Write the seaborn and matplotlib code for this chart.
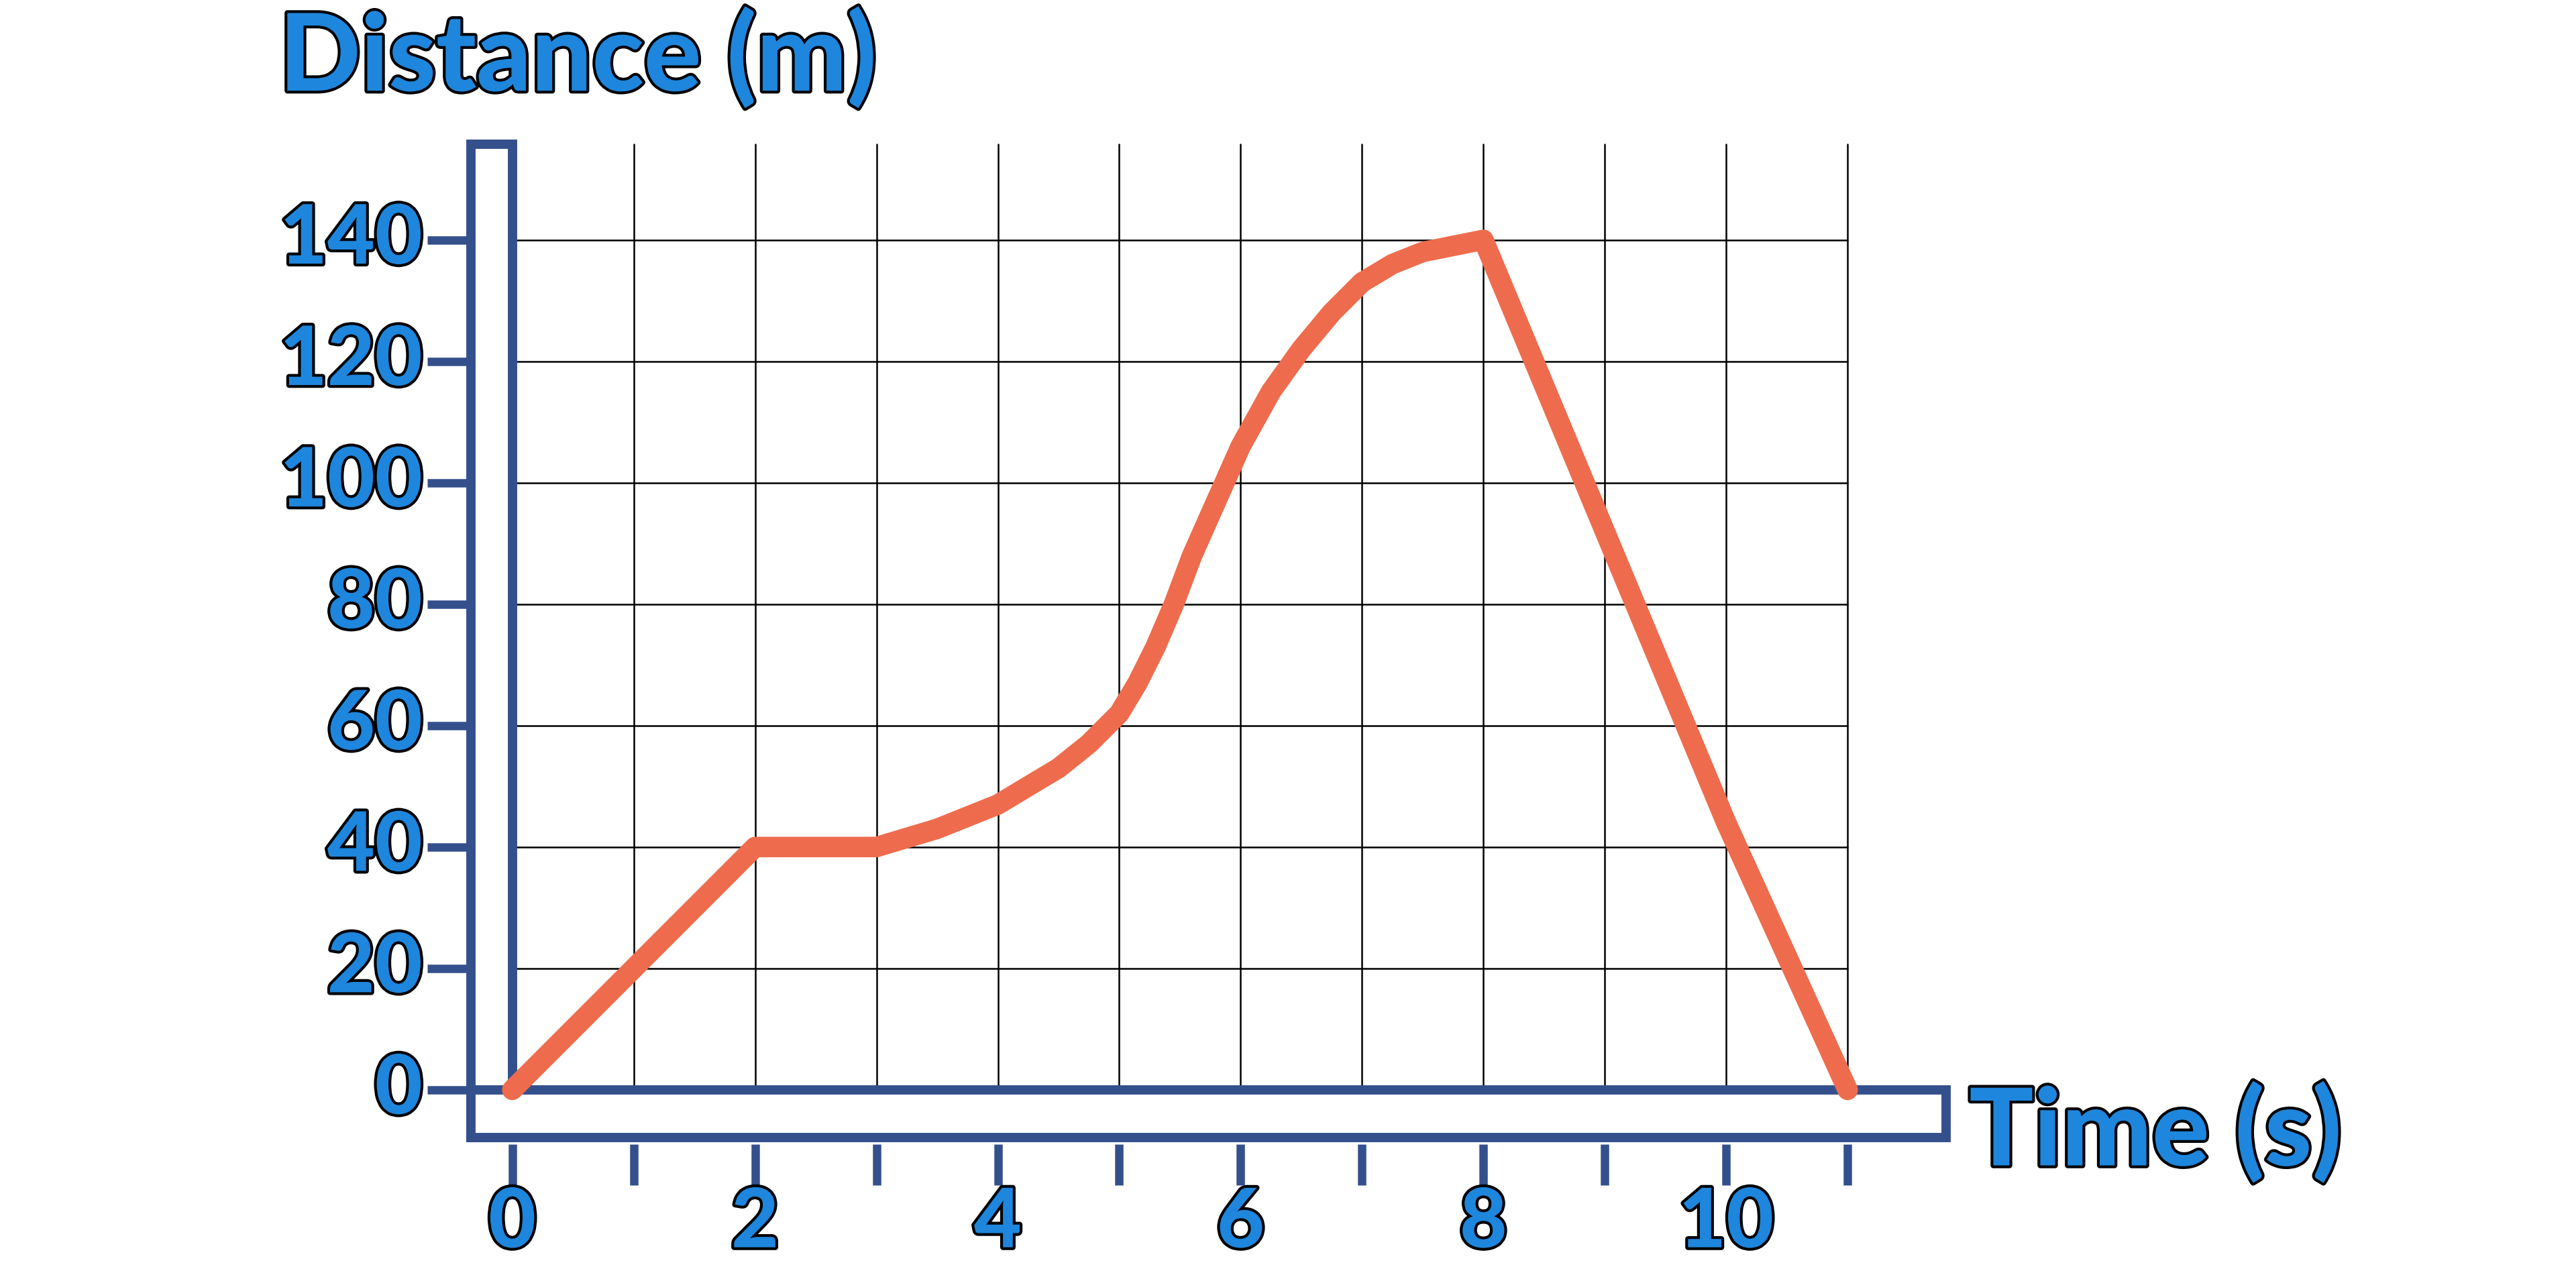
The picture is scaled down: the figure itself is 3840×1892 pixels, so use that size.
import matplotlib
matplotlib.use("Agg")
import matplotlib.pyplot as plt
import matplotlib.patheffects as pe
from matplotlib.patches import Rectangle
import seaborn as sns
import pandas as pd

# --- data ---
time_s = [0, 1, 2, 3, 3.25, 3.5, 3.75, 4, 4.25, 4.5, 4.75, 5, 5.15, 5.3, 5.45,
          5.6, 5.8, 6, 6.25, 6.5, 6.75, 7, 7.25, 7.5, 7.75, 8, 9, 10, 11]
distance_m = [0, 20, 40, 40, 41.5, 43, 45, 47, 50, 53, 57, 62, 67, 73, 80,
              88, 97, 106, 115, 122, 128, 133, 136, 138, 139, 140, 92, 44, 0]
x_ticks = list(range(0, 12))
x_labels = {0: "0", 2: "2", 4: "4", 6: "6", 8: "8", 10: "10"}
y_ticks = [0, 20, 40, 60, 80, 100, 120, 140]

NAVY = "#34508C"
ORANGE = "#EE6C4D"
BLUE = "#1E86DC"

sns.set_theme(style="white")
plt.rcParams['font.family'] = ['Lato', 'DejaVu Sans']

fig = plt.figure(figsize=(38.4, 18.92), dpi=100)
ax = fig.add_axes([0, 0, 1, 1])
ax.set_xlim(-4.22, 17.0)
ax.set_ylim(-29.5, 179.5)
ax.axis("off")

top = 155.7
# grid
for t in x_ticks[1:]:
    ax.plot([t, t], [0, top], color="black", lw=1.8, zorder=1)
for v in y_ticks[1:]:
    ax.plot([0, 11], [v, v], color="black", lw=1.8, zorder=1)

# axis bars
ax.add_patch(Rectangle((-0.34, -7.8), 0.34, top + 7.8, facecolor="white",
                       edgecolor=NAVY, lw=10, zorder=2))
ax.add_patch(Rectangle((-0.34, -7.8), 12.15, 7.8, facecolor="white",
                       edgecolor=NAVY, lw=10, zorder=2))

fx = [pe.withStroke(linewidth=6, foreground="black")]

# ticks and labels
for t in x_ticks:
    ax.plot([t, t], [-8.9, -15.7], color=NAVY, lw=9, solid_capstyle="butt")
    if t in x_labels:
        ax.text(t, -22, x_labels[t], color=BLUE, fontsize=88, fontweight="black",
                ha="center", va="center", path_effects=fx)
for v in y_ticks:
    ax.plot([-0.70, -0.36], [v, v], color=NAVY, lw=9, solid_capstyle="butt")
    ax.text(-0.74, v, str(v), color=BLUE, fontsize=88, fontweight="black",
            ha="right", va="center", path_effects=fx)

# curve
df = pd.DataFrame({"time": time_s, "distance": distance_m})
sns.lineplot(data=df, x="time", y="distance", sort=False, color=ORANGE,
             lw=22, ax=ax, zorder=5, solid_capstyle="round", solid_joinstyle="round")

ax.text(-1.92, 170, "Distance (m)", color=BLUE, fontsize=115, fontweight="black",
        ha="left", va="center", path_effects=fx)
ax.text(12.0, -7, "Time (s)", color=BLUE, fontsize=115, fontweight="black",
        ha="left", va="center", path_effects=fx)

fig.savefig("out.png", dpi=100, facecolor="white")
